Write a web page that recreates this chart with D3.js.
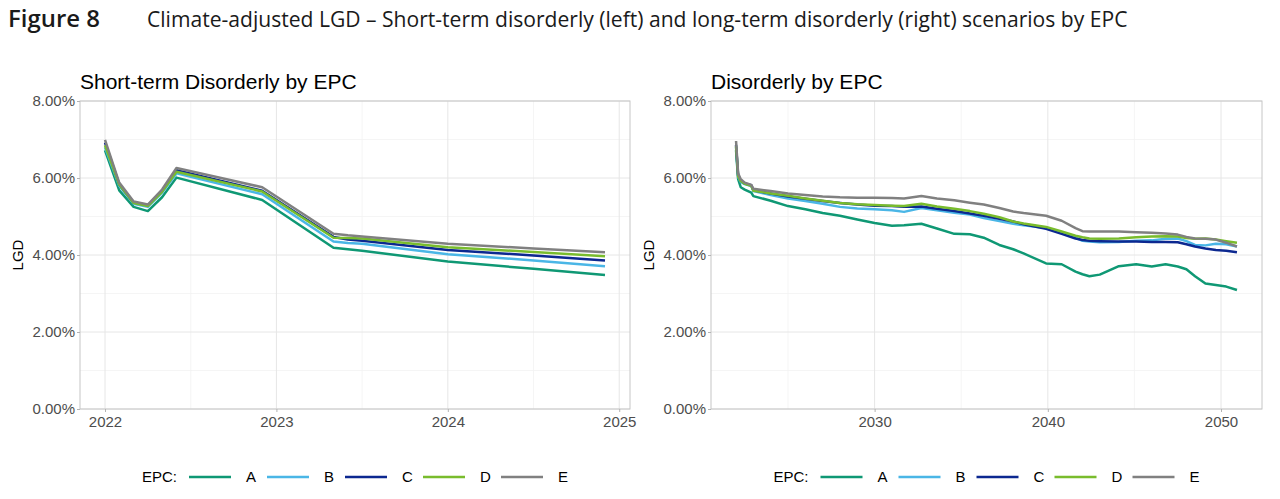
<!DOCTYPE html>
<html>
<head>
<meta charset="utf-8">
<script src="https://cdn.jsdelivr.net/npm/d3@7"></script>
<style>
  body { margin: 0; background: #fff; }
  svg { display: block; }
</style>
</head>
<body>
<svg id="chart" width="1280" height="499"></svg>
<script>
// EPC bands and their colours
const epcCodes = ['A', 'B', 'C', 'D', 'E'];
const epcColours = ['#0f9874', '#4ab6e6', '#0c2890', '#79bc2d', '#808080'];

// Short-term disorderly scenario (decimal years, LGD in %)
const shortYears = [2022, 2022.083, 2022.167, 2022.25, 2022.333, 2022.417, 2022.917, 2023.333, 2023.417, 2023.5, 2024.0, 2024.5, 2024.917];
const shortA = [6.72, 5.68, 5.25, 5.14, 5.50, 6.01, 5.43, 4.19, 4.15, 4.11, 3.83, 3.64, 3.48];
const shortB = [6.80, 5.80, 5.33, 5.25, 5.62, 6.12, 5.58, 4.35, 4.31, 4.29, 4.02, 3.86, 3.71];
const shortC = [6.92, 5.84, 5.36, 5.29, 5.66, 6.20, 5.67, 4.47, 4.40, 4.37, 4.13, 3.99, 3.86];
const shortD = [6.85, 5.83, 5.35, 5.27, 5.64, 6.16, 5.65, 4.45, 4.44, 4.43, 4.20, 4.08, 3.97];
const shortE = [6.99, 5.88, 5.39, 5.31, 5.70, 6.26, 5.76, 4.55, 4.51, 4.48, 4.29, 4.17, 4.07];

// Long-term disorderly scenario
const longYears = [2022, 2022.12, 2022.27, 2022.5, 2022.88, 2023, 2024, 2025, 2026, 2027, 2028, 2029, 2030, 2031, 2031.7, 2032.7, 2033.6, 2034.6, 2035.5, 2036.3, 2037.2, 2038, 2038.6, 2039.9, 2040.8, 2041.6, 2042, 2042.4, 2043, 2044.1, 2045.1, 2046, 2046.8, 2047.5, 2048, 2048.5, 2049.1, 2049.7, 2050.3, 2050.92];
const longA = [6.72, 5.97, 5.76, 5.70, 5.62, 5.53, 5.41, 5.27, 5.19, 5.09, 5.02, 4.92, 4.83, 4.76, 4.77, 4.81, 4.69, 4.55, 4.54, 4.45, 4.26, 4.15, 4.04, 3.78, 3.76, 3.57, 3.50, 3.45, 3.49, 3.71, 3.76, 3.70, 3.76, 3.70, 3.63, 3.45, 3.26, 3.22, 3.18, 3.09];
const longB = [6.80, 6.03, 5.90, 5.84, 5.79, 5.66, 5.56, 5.47, 5.40, 5.33, 5.25, 5.21, 5.19, 5.16, 5.12, 5.22, 5.16, 5.10, 5.05, 4.96, 4.88, 4.81, 4.77, 4.70, 4.58, 4.45, 4.37, 4.35, 4.33, 4.34, 4.37, 4.38, 4.42, 4.43, 4.36, 4.26, 4.25, 4.29, 4.28, 4.22];
const longC = [6.86, 6.07, 5.93, 5.86, 5.81, 5.68, 5.60, 5.52, 5.46, 5.40, 5.35, 5.31, 5.28, 5.27, 5.25, 5.26, 5.20, 5.14, 5.08, 5.02, 4.94, 4.87, 4.80, 4.68, 4.55, 4.43, 4.39, 4.37, 4.36, 4.35, 4.35, 4.34, 4.34, 4.33, 4.28, 4.22, 4.17, 4.13, 4.11, 4.07];
const longD = [6.83, 6.05, 5.92, 5.85, 5.80, 5.67, 5.60, 5.54, 5.47, 5.41, 5.35, 5.32, 5.30, 5.28, 5.27, 5.33, 5.26, 5.20, 5.14, 5.07, 4.98, 4.87, 4.82, 4.73, 4.61, 4.50, 4.46, 4.43, 4.42, 4.43, 4.46, 4.48, 4.49, 4.48, 4.44, 4.42, 4.43, 4.40, 4.36, 4.32];
const longE = [6.96, 6.12, 5.97, 5.88, 5.82, 5.72, 5.66, 5.60, 5.56, 5.52, 5.50, 5.49, 5.49, 5.48, 5.47, 5.53, 5.47, 5.42, 5.36, 5.31, 5.22, 5.13, 5.09, 5.02, 4.89, 4.70, 4.62, 4.61, 4.61, 4.61, 4.59, 4.58, 4.56, 4.53, 4.47, 4.43, 4.42, 4.40, 4.32, 4.22];

// Axis ticks
const yTicks = [0, 0.02, 0.04, 0.06, 0.08];
const yMinor = [0.01, 0.03, 0.05, 0.07];
const shortTicks = [2022, 2023, 2024, 2025];
const shortMinor = [2022.5, 2023.5, 2024.5];
const longTicks = [2030, 2040, 2050];
const longMinor = [2025, 2035, 2045];

const svg = d3.select('#chart');
const chartFont = '"Liberation Sans", Arial, sans-serif';
const tickSize = 15;

// Figure header
const head = svg.append('g')
  .attr('transform', 'translate(8,27)')
  .style('font-family', '"Open Sans", "Noto Sans", sans-serif')
  .style('fill', '#1a1a1a');
const fig = head.append('text').attr('font-weight', 600).attr('font-size', 21).text('Figure 8');
const sub = head.append('text').attr('x', 139).attr('font-size', 21)
  .text('Climate-adjusted LGD \u2013 Short-term disorderly (left) and long-term disorderly (right) scenarios by EPC');
// squeeze header to the width it takes in the report
sub.attr('font-size', 21 * 981 / sub.node().getComputedTextLength());
fig.attr('font-size', 21 * 92 / fig.node().getComputedTextLength());

function toSeries(years, cols) {
  return cols.map((vals, i) => ({
    code: epcCodes[i],
    colour: epcColours[i],
    values: years.map((t, j) => ({t: t, v: vals[j] / 100}))
  }));
}

function panel(opts) {
  const top = 101, bottom = 409;
  const ext = d3.extent(opts.years);
  const pad = (ext[1] - ext[0]) * 0.05;

  const x = d3.scaleLinear().domain([ext[0] - pad, ext[1] + pad]).range([opts.left, opts.right]);
  const y = d3.scaleLinear().domain([0, 0.08]).range([bottom, top]);

  const g = svg.append('g').style('font-family', chartFont);

  // grid, minor then major
  g.append('g').selectAll('line').data(yMinor).join('line')
    .attr('x1', opts.left).attr('x2', opts.right)
    .attr('y1', d => y(d)).attr('y2', d => y(d))
    .attr('stroke', '#f2f2f2').attr('stroke-width', 0.8);
  g.append('g').selectAll('line').data(opts.xMinor).join('line')
    .attr('x1', d => x(d)).attr('x2', d => x(d))
    .attr('y1', top).attr('y2', bottom)
    .attr('stroke', '#f2f2f2').attr('stroke-width', 0.8);
  g.append('g').selectAll('line').data(yTicks).join('line')
    .attr('x1', opts.left).attr('x2', opts.right)
    .attr('y1', d => y(d)).attr('y2', d => y(d))
    .attr('stroke', '#e6e6e6').attr('stroke-width', 1);
  g.append('g').selectAll('line').data(opts.xTicks).join('line')
    .attr('x1', d => x(d)).attr('x2', d => x(d))
    .attr('y1', top).attr('y2', bottom)
    .attr('stroke', '#e6e6e6').attr('stroke-width', 1);

  // panel border
  g.append('rect')
    .attr('x', opts.left).attr('y', top)
    .attr('width', opts.right - opts.left).attr('height', bottom - top)
    .attr('fill', 'none').attr('stroke', '#c6c6c6').attr('stroke-width', 1);

  // axes
  const yAxis = d3.axisLeft(y).tickValues(yTicks).tickFormat(d3.format('.2%')).tickSize(3).tickPadding(2);
  const xAxis = d3.axisBottom(x).tickValues(opts.xTicks).tickFormat(d3.format('d')).tickSize(3).tickPadding(4);

  const ya = g.append('g').attr('transform', 'translate(' + opts.left + ',0)').call(yAxis);
  const xa = g.append('g').attr('transform', 'translate(0,' + bottom + ')').call(xAxis);
  [ya, xa].forEach(a => {
    a.select('.domain').remove();
    a.selectAll('line').attr('stroke', '#b3b3b3');
    a.selectAll('text').attr('fill', '#4d4d4d').attr('font-size', tickSize).attr('font-family', chartFont);
  });

  // lines
  const line = d3.line().x(d => x(d.t)).y(d => y(d.v));
  g.append('g').selectAll('path').data(opts.series).join('path')
    .attr('d', d => line(d.values))
    .attr('fill', 'none')
    .attr('stroke', d => d.colour)
    .attr('stroke-width', 2.5)
    .attr('stroke-linejoin', 'round');

  // titles
  g.append('text').attr('x', opts.left).attr('y', 89)
    .attr('font-size', 21).attr('fill', '#000').text(opts.title);
  g.append('text')
    .attr('transform', 'translate(' + (opts.left - 57) + ',' + ((top + bottom) / 2) + ') rotate(-90)')
    .attr('text-anchor', 'middle').attr('font-size', tickSize).attr('fill', '#000').text('LGD');

  // legend
  const lg = g.append('g')
    .attr('transform', 'translate(' + ((opts.left + opts.right) / 2 - 213) + ',482)');
  lg.append('text').attr('font-size', tickSize).attr('fill', '#000').text('EPC:');
  const item = lg.selectAll('g.item').data(opts.series).join('g')
    .attr('class', 'item')
    .attr('transform', (d, i) => 'translate(' + (47 + i * 78) + ',0)');
  item.append('line').attr('x1', 0).attr('x2', 42).attr('y1', -5).attr('y2', -5)
    .attr('stroke', d => d.colour).attr('stroke-width', 2.5);
  item.append('text').attr('x', 57).attr('font-size', tickSize).attr('fill', '#000').text(d => d.code);
}

panel({
  left: 80, right: 630,
  title: 'Short-term Disorderly by EPC',
  years: shortYears,
  series: toSeries(shortYears, [shortA, shortB, shortC, shortD, shortE]),
  xTicks: shortTicks, xMinor: shortMinor
});

panel({
  left: 711, right: 1262,
  title: 'Disorderly by EPC',
  years: longYears,
  series: toSeries(longYears, [longA, longB, longC, longD, longE]),
  xTicks: longTicks, xMinor: longMinor
});
</script>
</body>
</html>
